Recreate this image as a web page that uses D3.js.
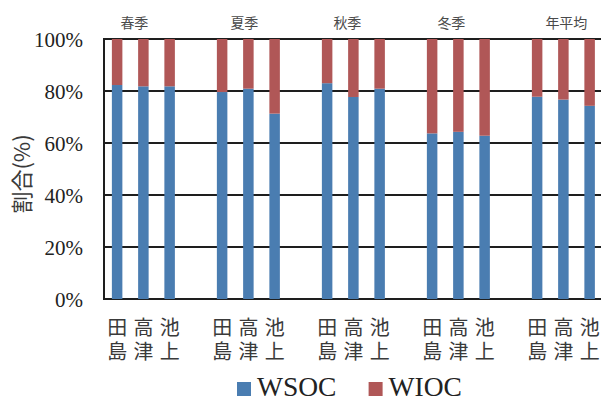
<!DOCTYPE html>
<html>
<head>
<meta charset="utf-8">
<script src="https://cdn.jsdelivr.net/npm/d3@7"></script>
<style>
  body { margin: 0; background: #fff; }
</style>
</head>
<body>
<div id="chart"></div>
<script>

// Data
const seasons = ["春季", "夏季", "秋季", "冬季", "年平均"];
const sites = ["田島", "高津", "池上"];
const wsoc = [
    [82.3, 81.8, 81.8],
    [79.6, 80.9, 71.3],
    [83.0, 77.7, 80.9],
    [63.7, 64.3, 62.8],
    [77.8, 76.7, 74.3]
];
const wioc = [
    [17.7, 18.2, 18.2],
    [20.4, 19.1, 28.7],
    [17.0, 22.3, 19.1],
    [36.3, 35.7, 37.2],
    [22.2, 23.3, 25.7]
];
const yTicks = [0, 20, 40, 60, 80, 100];
const seriesNames = ["WSOC", "WIOC"];

// Set the dimensions
const width = 601;
const height = 401;
const plot = { left: 104, right: 629, top: 39, bottom: 299 };

const svg = d3.select("#chart")
    .append("svg")
    .attr("width", width)
    .attr("height", height);

// One slot per bar plus an empty slot after each season
const rows = [];
const domain = [];
seasons.forEach((s, i) => {
    sites.forEach((site, j) => {
        const key = s + "-" + site;
        domain.push(key);
        rows.push({ key: key, season: s, site: site, WSOC: wsoc[i][j], WIOC: wioc[i][j] });
    });
    domain.push(s + "-gap");
});

const x = d3.scaleBand()
    .domain(domain)
    .range([plot.left, plot.right])
    .paddingInner(0.6)
    .paddingOuter(0.3);

const y = d3.scaleLinear()
    .domain([0, 100])
    .range([plot.bottom, plot.top]);

const color = d3.scaleOrdinal()
    .domain(seriesNames)
    .range(["#4a7db1", "#b05757"]);

// Horizontal gridlines
svg.append("g")
    .selectAll("line")
    .data(yTicks)
    .join("line")
    .attr("x1", plot.left)
    .attr("x2", width)
    .attr("y1", d => y(d))
    .attr("y2", d => y(d))
    .attr("stroke", "#1e1e1e")
    .attr("stroke-width", 2);

// Left axis line
svg.append("line")
    .attr("x1", plot.left)
    .attr("x2", plot.left)
    .attr("y1", y(100) - 1)
    .attr("y2", y(0) + 1)
    .attr("stroke", "#1e1e1e")
    .attr("stroke-width", 2);

// Y tick labels
svg.append("g")
    .selectAll("text")
    .data(yTicks)
    .join("text")
    .attr("x", 83)
    .attr("y", d => y(d) + 7.5)
    .attr("text-anchor", "end")
    .attr("font-family", "Liberation Serif, serif")
    .attr("font-size", 21)
    .attr("fill", "#222")
    .text(d => d + "%");

// Stacked bars
const stack = d3.stack().keys(seriesNames);
const stacked = stack(rows);

svg.append("g")
    .selectAll("g")
    .data(stacked)
    .join("g")
    .attr("fill", d => color(d.key))
    .selectAll("rect")
    .data(d => d)
    .join("rect")
    .attr("x", d => x(d.data.key))
    .attr("width", x.bandwidth())
    .attr("y", d => y(d[1]))
    .attr("height", d => y(d[0]) - y(d[1]));

// Site labels, one character per line (separate text per character)
const siteChars = [];
rows.forEach(r => {
    r.site.split("").forEach((c, i) => siteChars.push({ key: r.key, ch: c, line: i }));
});

svg.append("g")
    .attr("font-family", "Noto Sans CJK JP, sans-serif")
    .attr("font-size", 20)
    .attr("fill", "#3a3a3a")
    .attr("text-anchor", "middle")
    .selectAll("text")
    .data(siteChars)
    .join("text")
    .attr("x", d => x(d.key) + x.bandwidth() / 2)
    .attr("y", d => 335 + d.line * 24)
    .text(d => d.ch);

// Season labels above each group
const seasonOffset = [-9, -4, -6, -7, 3];
svg.append("g")
    .selectAll("text")
    .data(seasons)
    .join("text")
    .attr("x", (d, i) => x(d + "-" + sites[1]) + x.bandwidth() / 2 + seasonOffset[i])
    .attr("y", 28)
    .attr("text-anchor", "middle")
    .attr("font-family", "Noto Sans CJK JP, sans-serif")
    .attr("font-size", 14)
    .attr("fill", "#4a4a4a")
    .text(d => d);

// Y axis title
svg.append("text")
    .attr("transform", "translate(30, 174) rotate(-90)")
    .attr("text-anchor", "middle")
    .attr("font-family", "Noto Sans CJK JP, sans-serif")
    .attr("font-size", 22)
    .attr("fill", "#3a3a3a")
    .text("割合(%)");

// Legend
const legend = svg.append("g")
    .attr("transform", "translate(237, 382)");

const legendItems = legend.selectAll("g")
    .data(seriesNames)
    .join("g")
    .attr("transform", (d, i) => `translate(${i * 131.6}, 0)`);

legendItems.append("rect")
    .attr("width", 14)
    .attr("height", 14)
    .attr("fill", d => color(d));

legendItems.append("text")
    .attr("x", 20)
    .attr("y", 13.5)
    .attr("font-family", "Liberation Serif, serif")
    .attr("font-size", 27.5)
    .attr("fill", "#222")
    .text(d => d);

</script>
</body>
</html>
